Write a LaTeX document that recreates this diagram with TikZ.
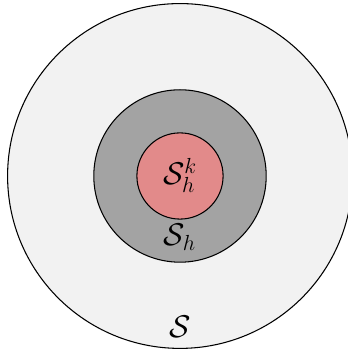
\documentclass[tikz,border=0pt]{standalone}
\definecolor{outerc}{RGB}{242,242,242}
\definecolor{midc}{RGB}{163,163,163}
\definecolor{innerc}{RGB}{226,138,138}
\begin{document}
\begin{tikzpicture}
\useasboundingbox (-4.176,-4.014) rectangle (3.875,4.083);
\tikzset{ring/.style={draw=black, line width=0.7pt}, lab/.style={font=\huge}}
\draw[ring, fill=outerc] (0,0) circle (4);
\draw[ring, fill=midc] (0,0) circle (2);
\draw[ring, fill=innerc] (0,0) circle (1);
\node[lab] (sk) at (0,0.02) {$\mathcal{S}_h^k$};
\node[lab] (sh) at (0,-1.42) {$\mathcal{S}_h$};
\node[lab] (s) at (0,-3.5) {$\mathcal{S}$};
\end{tikzpicture}
\end{document}
